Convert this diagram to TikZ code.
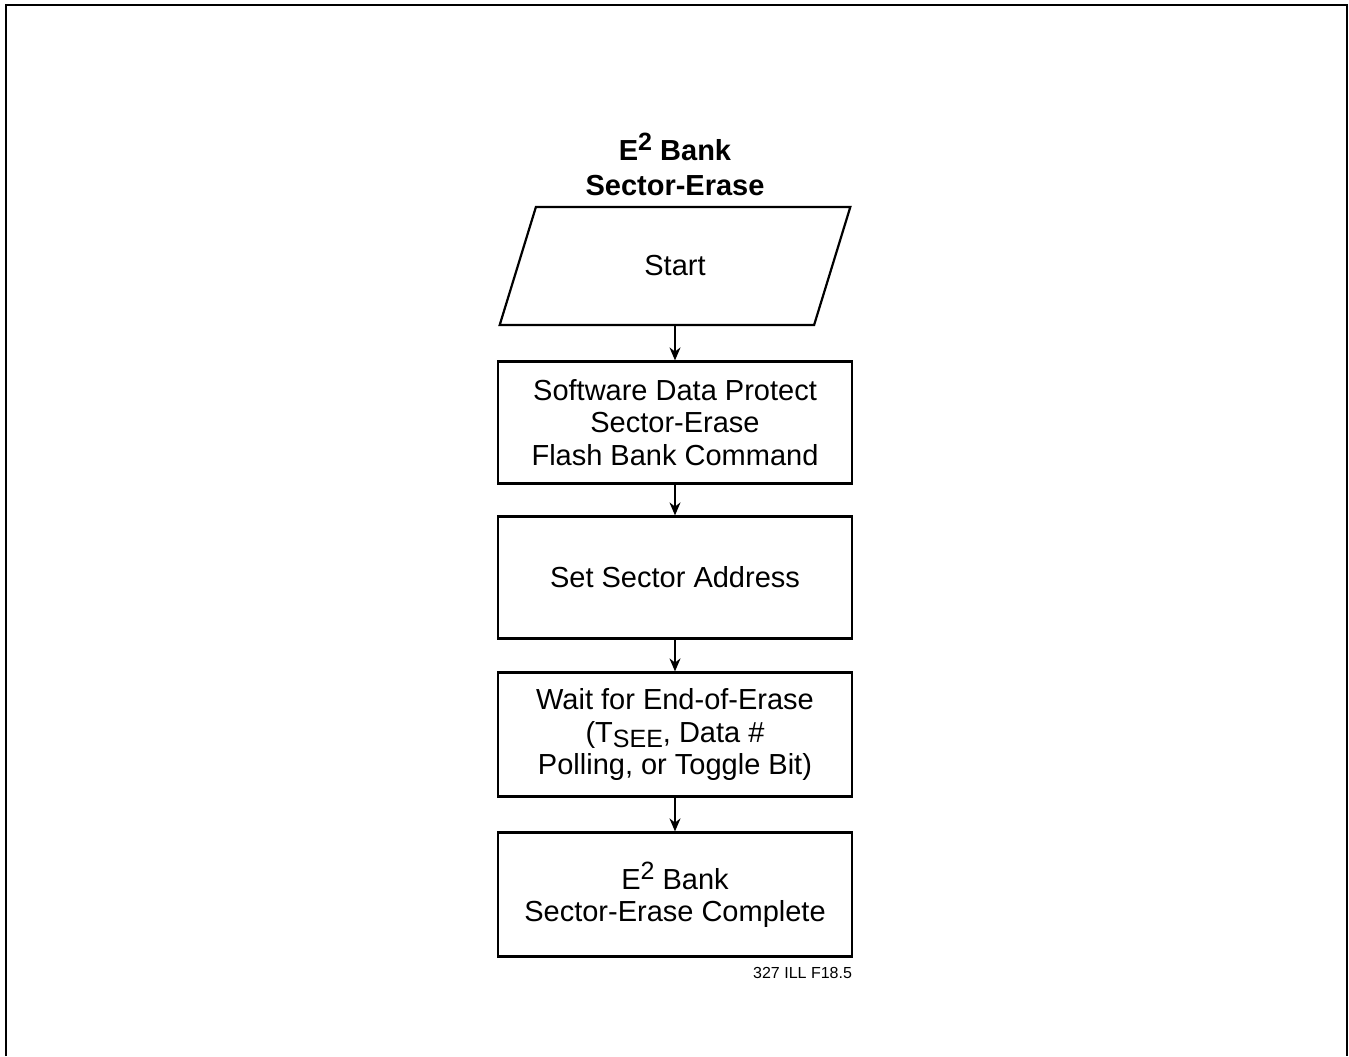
\documentclass[tikz,border=0pt]{standalone}
\usepackage{fontspec}
\setmainfont{Liberation Sans}
\usetikzlibrary{shapes.geometric,arrows.meta}
\newcommand{\etwo}{E\raisebox{5pt}{\fontsize{12.5}{12.5}\selectfont 2}}
\begin{document}
\begin{tikzpicture}[>={Stealth[length=6.5pt,width=5.5pt]},x=0.5pt,y=-0.5pt,
    stepbox/.style={draw,line width=1.1pt,minimum width=177pt,minimum height=61pt,align=center,font=\fontsize{14.5}{16.2}\selectfont},
    flow/.style={->,line width=0.9pt}]
    \useasboundingbox (0,0) rectangle (1349,1056);
    \draw[line width=1.2pt] (6,1056) -- (6,5) -- (1347,5) -- (1347,1056);
    \node[align=center,font=\bfseries\fontsize{14.5}{17.5}\selectfont] (title) at (675,164) {\etwo\ Bank\\Sector-Erase};
    \node[draw,line width=1.1pt,trapezium,trapezium left angle=74,trapezium right angle=106,trapezium stretches=true,minimum width=176pt,minimum height=59pt,font=\fontsize{14.5}{16.2}\selectfont] (start) at (675,266) {Start};
    \node[stepbox] (sdp) at (675,422.5) {Software Data Protect\\Sector-Erase\\Flash Bank Command};
    \node[stepbox] (addr) at (675,577.5) {Set Sector Address};
    \node[stepbox,minimum height=62pt] (wait) at (675,734.5) {Wait for End-of-Erase\\(T\raisebox{-2.5pt}{\fontsize{12.5}{12.5}\selectfont SEE}, Data \#\\Polling, or Toggle Bit)};
    \node[stepbox,minimum height=62pt] (done) at (675,894.5) {\etwo\ Bank\\Sector-Erase Complete};
    \node[anchor=east,font=\fontsize{8}{9}\selectfont] (fig) at (859,973) {327 ILL F18.5};
    \draw[flow] (start) -- (sdp);
    \draw[flow] (sdp) -- (addr);
    \draw[flow] (addr) -- (wait);
    \draw[flow] (wait) -- (done);
\end{tikzpicture}
\end{document}
